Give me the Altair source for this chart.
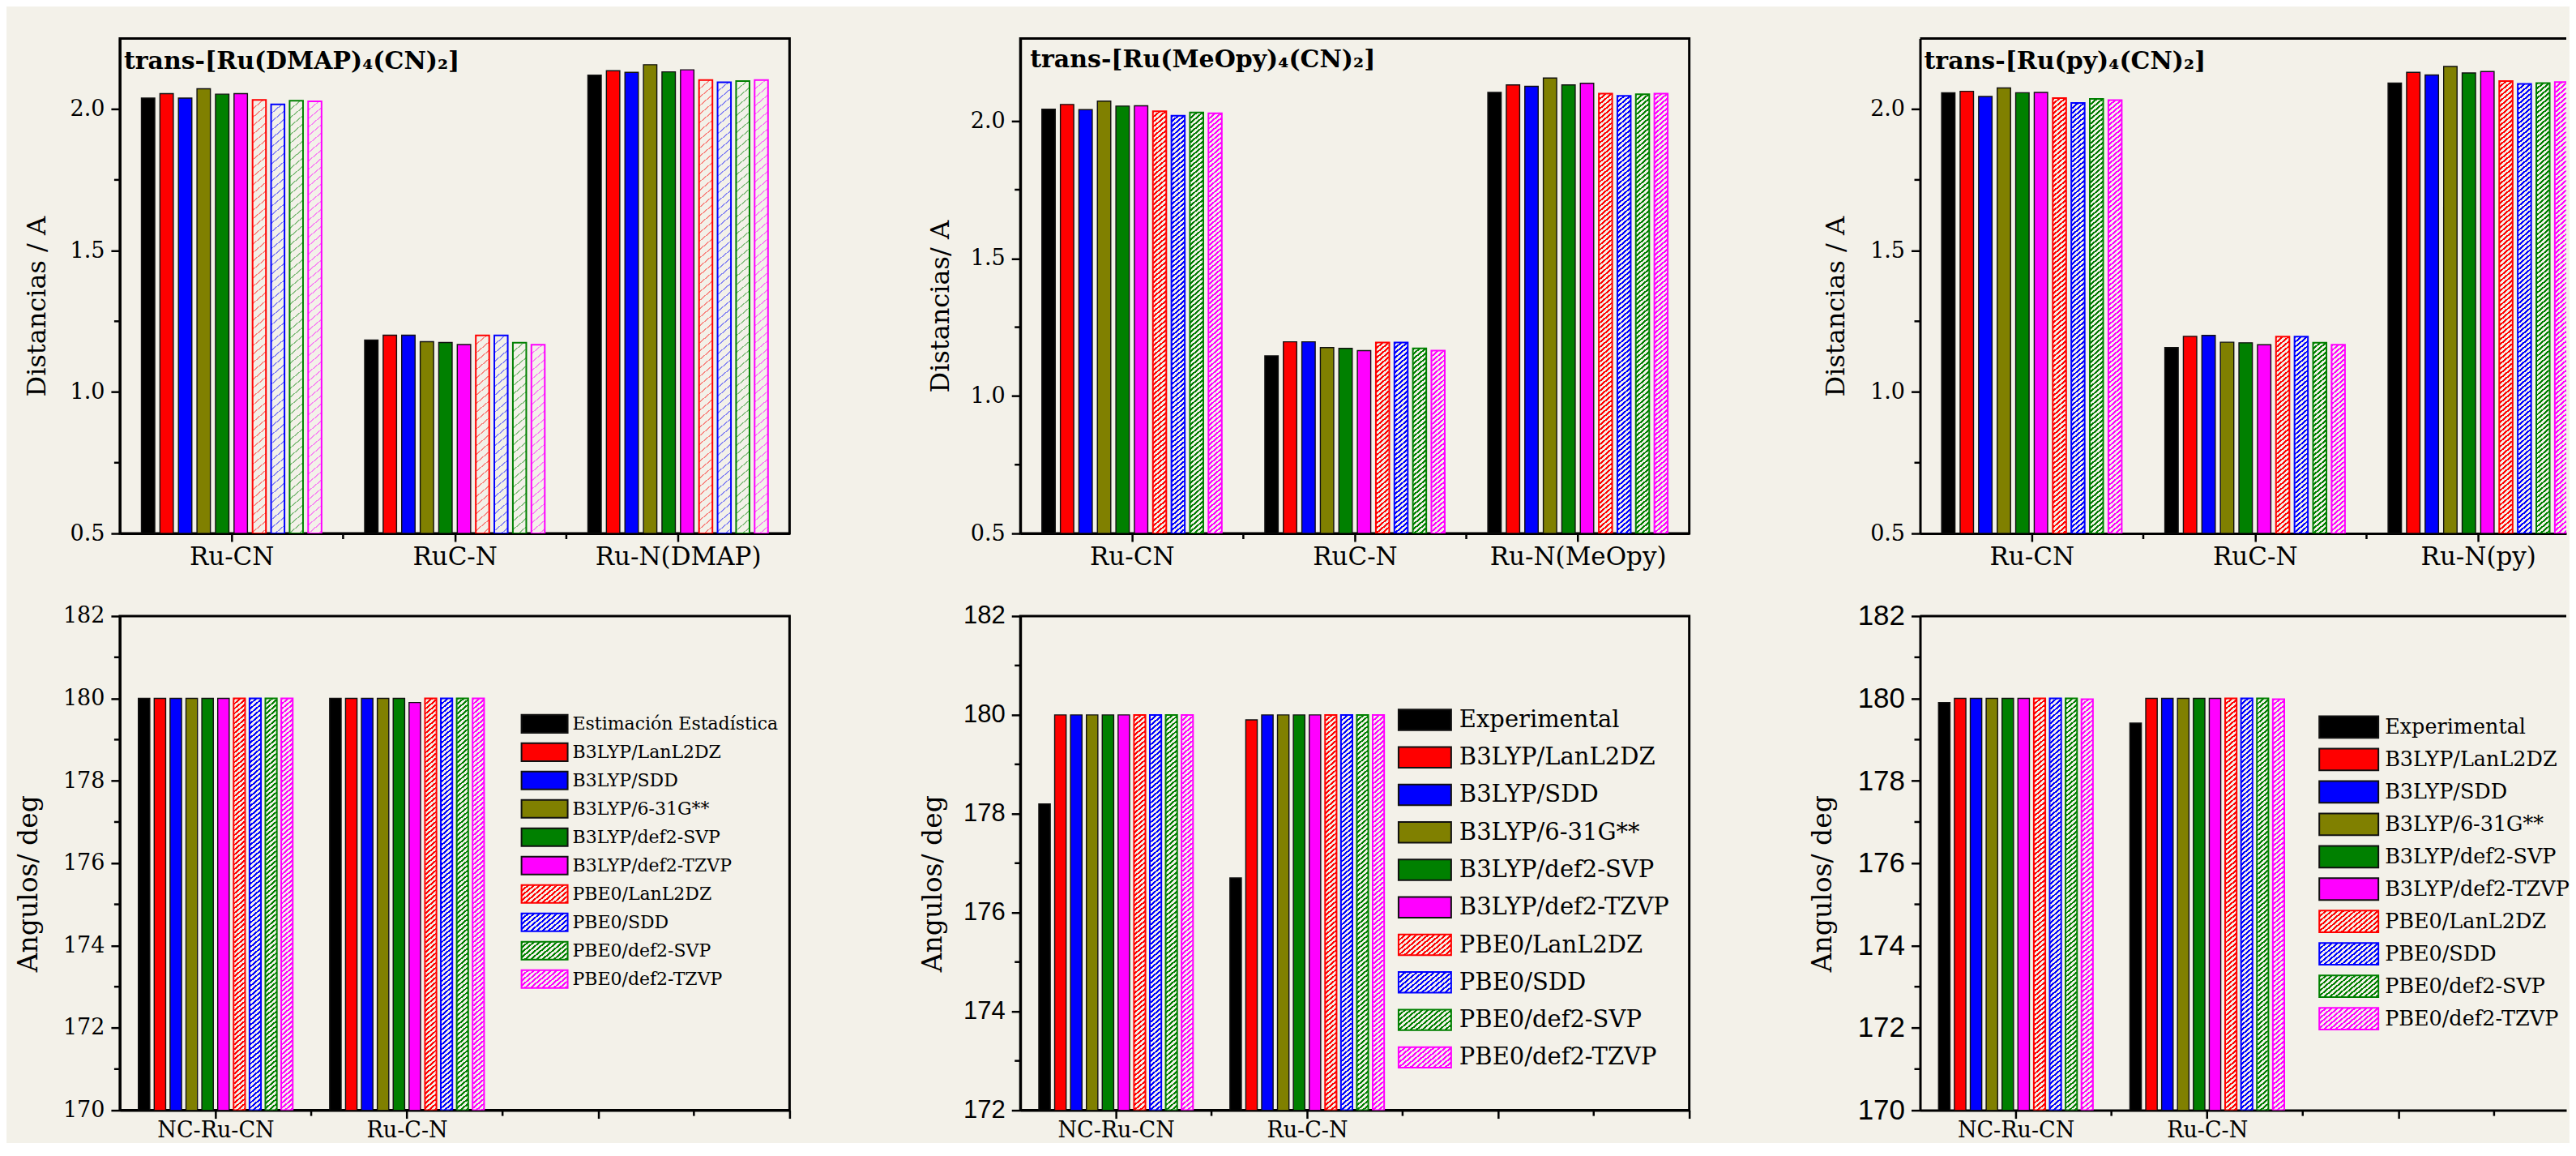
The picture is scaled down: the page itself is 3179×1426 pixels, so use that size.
import math
import altair as alt
import pandas as pd

BG = "#f3f1e9"

# ---------------- data ----------------
methods_exp = ["Experimental", "B3LYP/LanL2DZ", "B3LYP/SDD", "B3LYP/6-31G**", "B3LYP/def2-SVP",
               "B3LYP/def2-TZVP", "PBE0/LanL2DZ", "PBE0/SDD", "PBE0/def2-SVP", "PBE0/def2-TZVP"]
methods_est = ["Estimación Estadística", "B3LYP/LanL2DZ", "B3LYP/SDD", "B3LYP/6-31G**", "B3LYP/def2-SVP",
               "B3LYP/def2-TZVP", "PBE0/LanL2DZ", "PBE0/SDD", "PBE0/def2-SVP", "PBE0/def2-TZVP"]
bar_colors = ["#000000", "#ff0000", "#0000ff", "#808000", "#008000",
              "#ff00ff", "#ff0000", "#0000ff", "#008000", "#ff00ff"]

cats_dmap = ["Ru-CN", "RuC-N", "Ru-N(DMAP)"]
cats_meopy = ["Ru-CN", "RuC-N", "Ru-N(MeOpy)"]
cats_py = ["Ru-CN", "RuC-N", "Ru-N(py)"]
cats_ang = ["NC-Ru-CN", "Ru-C-N"]

dmap_ru_cn = [2.039, 2.055, 2.039, 2.072, 2.053, 2.055, 2.033, 2.017, 2.030, 2.028]
dmap_ruc_n = [1.184, 1.201, 1.201, 1.178, 1.175, 1.168, 1.200, 1.200, 1.174, 1.167]
dmap_ru_n = [2.120, 2.136, 2.130, 2.157, 2.132, 2.139, 2.103, 2.095, 2.099, 2.103]

meopy_ru_cn = [2.043, 2.060, 2.041, 2.072, 2.054, 2.055, 2.035, 2.019, 2.031, 2.028]
meopy_ruc_n = [1.146, 1.197, 1.197, 1.176, 1.173, 1.165, 1.194, 1.194, 1.173, 1.165]
meopy_ru_n = [2.104, 2.131, 2.126, 2.156, 2.131, 2.137, 2.099, 2.091, 2.097, 2.099]

py_ru_cn = [2.058, 2.063, 2.045, 2.075, 2.058, 2.059, 2.039, 2.022, 2.036, 2.032]
py_ruc_n = [1.157, 1.197, 1.200, 1.176, 1.174, 1.167, 1.196, 1.196, 1.174, 1.167]
py_ru_n = [2.092, 2.130, 2.121, 2.151, 2.128, 2.133, 2.099, 2.089, 2.092, 2.096]

dmap_nc_ru_cn = [180.0, 180.0, 180.0, 180.0, 180.0, 180.0, 180.0, 180.0, 180.0, 180.0]
dmap_ru_c_n = [180.0, 180.0, 180.0, 180.0, 180.0, 179.9, 180.0, 180.0, 180.0, 180.0]
meopy_nc_ru_cn = [178.2, 180.0, 180.0, 180.0, 180.0, 180.0, 180.0, 180.0, 180.0, 180.0]
meopy_ru_c_n = [176.7, 179.9, 180.0, 180.0, 180.0, 180.0, 180.0, 180.0, 180.0, 180.0]
py_nc_ru_cn = [179.9, 180.0, 180.0, 180.0, 180.0, 180.0, 180.0, 180.0, 180.0, 179.98]
py_ru_c_n = [179.4, 180.0, 180.0, 180.0, 180.0, 180.0, 180.0, 180.0, 180.0, 179.98]

SLOT = 0.083
BARW = 0.06


def blend(c, amt):
    r, g, b = int(c[1:3], 16), int(c[3:5], 16), int(c[5:7], 16)
    br, bg_, bb = int(BG[1:3], 16), int(BG[3:5], 16), int(BG[5:7], 16)
    r = round(r * amt + br * (1 - amt))
    g = round(g * amt + bg_ * (1 - amt))
    b = round(b * amt + bb * (1 - amt))
    return "#%02x%02x%02x" % (r, g, b)


def hatch(color, w, h, s, lw, slope=0.84):
    span = slope * w + h
    n = span / math.sqrt(1 + slope ** 2) / s
    a = span / (slope ** 2 * w ** 2 + h ** 2)
    stops = []
    k = 0
    while k / n < 1:
        t0 = k / n
        t1 = min((k + lw / s) / n, 1)
        t2 = min((k + 1) / n, 1)
        stops += [(t0, color), (t1, color), (t1, BG), (t2, BG)]
        k += 1
    return alt.LinearGradient(
        gradient="linear", x1=0, y1=0, x2=a * slope * w, y2=a * h,
        stops=[alt.GradientStop(offset=round(o, 5), color=c) for o, c in stops])


def axis_style(**kw):
    d = dict(domainColor="black", domainWidth=3, tickColor="black", tickWidth=2.5,
             labelColor="black", titleColor="black", grid=False, labelFlush=False,
             labelOverlap=False, labelLimit=600)
    d.update(kw)
    return alt.Axis(**d)


def build_panel(cats, values, names, ymin, ymax, xmax, W, H, yvals, yminor, xminor, yfmt,
                ytitle, title_x, yl_font, yl_size, xl_size, yt_size, xpad, pale,
                title=None, title_dx=5, title_y=36, legend=None, open_right=False):
    rows = []
    for ci, vals in enumerate(values):
        for si, v in enumerate(vals):
            rows.append({"cat": cats[ci], "ci": ci + 1, "si": si, "series": names[si], "value": v})
    df = pd.DataFrame(rows)
    pxx = W / (xmax - 0.5)
    pxy = H / (ymax - ymin)
    xs = alt.Scale(domain=[0.5, xmax], nice=False, zero=False)
    ys = alt.Scale(domain=[ymin, ymax], nice=False, zero=False)
    cs = alt.Scale(domain=names, range=bar_colors)
    label_expr = " : ".join(f"datum.value == {i + 1} ? '{c}'" for i, c in enumerate(cats)) + " : ''"
    xaxis = axis_style(values=list(range(1, int(math.floor(xmax)) + 1)), labelExpr=label_expr,
                       title=None, tickSize=10, labelPadding=xpad, labelFont="DejaVu Serif",
                       labelFontSize=xl_size)
    yaxis = axis_style(values=yvals, format=yfmt, title=ytitle, titleX=title_x, titleY=H / 2 + 25,
                       titleAngle=270, titleAlign="center", titleBaseline="middle",
                       titleFont="DejaVu Serif", titleFontSize=yt_size, titleFontWeight="normal",
                       labelFont=yl_font, labelFontSize=yl_size, tickSize=11, labelPadding=8)
    base = alt.Chart(df).transform_calculate(
        xa=f"datum.ci + (datum.si - 4.5) * {SLOT} - {BARW / 2}",
        xb=f"datum.ci + (datum.si - 4.5) * {SLOT} + {BARW / 2}",
        base=f"{ymin}")
    layers = [base.transform_filter("datum.si < 6").mark_rect(
        stroke="#111111", strokeWidth=1.4, clip=True).encode(
        x=alt.X("xa:Q", scale=xs, axis=xaxis), x2="xb:Q",
        y=alt.Y("value:Q", scale=ys, axis=yaxis), y2="base:Q",
        fill=alt.Fill("series:N", scale=cs, legend=None))]
    wpx = BARW * pxx
    for ci, vals in enumerate(values):
        for si in range(6, 10):
            hpx = (vals[si] - ymin) * pxy
            if pale:
                g = hatch(blend(bar_colors[si], 0.45), wpx, hpx, 8.0, 1.3)
            else:
                g = hatch(bar_colors[si], wpx, hpx, 4.6, 2.0)
            layers.append(
                base.transform_filter(f"datum.si == {si} && datum.ci == {ci + 1}")
                .mark_rect(fill=g, stroke=bar_colors[si], strokeWidth=2, clip=True)
                .encode(x=alt.X("xa:Q", scale=xs, axis=xaxis), x2="xb:Q",
                        y=alt.Y("value:Q", scale=ys, axis=yaxis), y2="base:Q"))
    layers.append(alt.Chart(pd.DataFrame({"v": yminor})).mark_rule(color="black", strokeWidth=2.5).encode(
        y=alt.Y("v:Q", scale=ys, axis=yaxis), x=alt.value(0), x2=alt.value(-7)))
    layers.append(alt.Chart(pd.DataFrame({"v": xminor})).mark_rule(color="black", strokeWidth=2.5).encode(
        x=alt.X("v:Q", scale=xs, axis=xaxis), y=alt.value(H), y2=alt.value(H + 7)))
    if open_right:
        layers.append(alt.Chart(pd.DataFrame({"v": [0]})).mark_rule(color="black", strokeWidth=3).encode(
            x=alt.value(0), x2=alt.value(W), y=alt.value(0)))
    if title is not None:
        layers.append(alt.Chart(pd.DataFrame({"t": [title]})).mark_text(
            align="left", baseline="alphabetic", font="DejaVu Serif", fontSize=30,
            fontWeight="bold", color="black").encode(
            x=alt.value(title_dx), y=alt.value(title_y), text="t:N"))
    chart = alt.layer(*layers)

    if legend is not None:
        y0, step, p, sx0, sx1, tx, fs = legend
        ldf = pd.DataFrame({"series": names, "si": list(range(len(names)))})
        ly = alt.Scale(domain=names, range=[y0, y0 + step * len(names)], paddingInner=p,
                       paddingOuter=p / 2)
        band = step * (1 - p)
        llayers = [alt.Chart(ldf).transform_filter("datum.si < 6").mark_rect(
            stroke="#111111", strokeWidth=2).encode(
            y=alt.Y("series:N", scale=ly, axis=None), x=alt.value(sx0), x2=alt.value(sx1),
            fill=alt.Fill("series:N", scale=cs, legend=None))]
        for si in range(6, 10):
            g = hatch(bar_colors[si], sx1 - sx0, band, 4.6, 2.0)
            llayers.append(alt.Chart(ldf).transform_filter(f"datum.si == {si}").mark_rect(
                fill=g, stroke=bar_colors[si], strokeWidth=2).encode(
                y=alt.Y("series:N", scale=ly, axis=None), x=alt.value(sx0), x2=alt.value(sx1)))
        llayers.append(alt.Chart(ldf).mark_text(
            align="left", baseline="middle", font="DejaVu Serif", fontSize=fs, color="black").encode(
            y=alt.Y("series:N", scale=ly, axis=None), x=alt.value(tx), text="series:N"))
        chart = alt.layer(chart, alt.layer(*llayers)).resolve_scale(y="independent")

    props = dict(width=W, height=H)
    if open_right:
        props["view"] = alt.ViewBackground(strokeOpacity=0)
    return chart.properties(**props)


top_yvals = [0.5, 1.0, 1.5, 2.0]
top_minor = [0.75, 1.25, 1.75]
ang_vals_170 = [170, 172, 174, 176, 178, 180, 182]
ang_minor_170 = [171, 173, 175, 177, 179, 181]
ang_vals_172 = [172, 174, 176, 178, 180, 182]
ang_minor_172 = [173, 175, 177, 179, 181]

W3 = 798
XMAX_TOP3 = 0.5 + W3 / (827 / 3.0)
XMAX_BOT3 = 0.5 + W3 / (827 / 3.5)

p1 = build_panel(cats_dmap, [dmap_ru_cn, dmap_ruc_n, dmap_ru_n], methods_est, 0.5, 2.25, 3.5, 827, 611,
                 top_yvals, top_minor, [1.5, 2.5], ".1f", "Distancias / A", -102,
                 "DejaVu Serif", 27, 31, 32, 4, True,
                 title="trans-[Ru(DMAP)₄(CN)₂]", title_dx=5, title_y=38)
p2 = build_panel(cats_meopy, [meopy_ru_cn, meopy_ruc_n, meopy_ru_n], methods_exp, 0.5, 2.3, 3.5, 826, 611,
                 top_yvals, top_minor, [1.5, 2.5], ".1f", "Distancias/ A", -99,
                 "DejaVu Serif", 27, 31, 32, 4, False,
                 title="trans-[Ru(MeOpy)₄(CN)₂]", title_dx=12, title_y=36)
p3 = build_panel(cats_py, [py_ru_cn, py_ruc_n, py_ru_n], methods_exp, 0.5, 2.25, XMAX_TOP3, W3, 611,
                 top_yvals, top_minor, [1.5, 2.5], ".1f", "Distancias / A", -104,
                 "DejaVu Serif", 27, 31, 32, 4, False,
                 title="trans-[Ru(py)₄(CN)₂]", title_dx=5, title_y=38, open_right=True)
p4 = build_panel(cats_ang, [dmap_nc_ru_cn, dmap_ru_c_n], methods_est, 170, 182, 4.0, 827, 610,
                 ang_vals_170, ang_minor_170, [1.5, 2.5, 3.5], "d", "Angulos/ deg", -112,
                 "DejaVu Serif", 27, 27, 33, 2, False,
                 legend=(115.5, 35, 0.37, 496, 553, 559, 22))
p5 = build_panel(cats_ang, [meopy_nc_ru_cn, meopy_ru_c_n], methods_exp, 172, 182, 4.0, 826, 610,
                 ang_vals_172, ang_minor_172, [1.5, 2.5, 3.5], "d", "Angulos/ deg", -108,
                 "Liberation Sans", 31, 27, 33, 2, False,
                 legend=(104.9, 46.3, 0.45, 467, 532, 542, 29))
p6 = build_panel(cats_ang, [py_nc_ru_cn, py_ru_c_n], methods_exp, 170, 182, XMAX_BOT3, W3, 610,
                 ang_vals_170, ang_minor_170, [1.5, 2.5, 3.5], "d", "Angulos/ deg", -120,
                 "Liberation Sans", 35, 27, 33, 2, False,
                 legend=(117, 40, 0.33, 493, 566, 574, 25.5), open_right=True)

chart = alt.concat(p1, p2, p3, p4, p5, p6, columns=3,
                   spacing=alt.RowColnumber(row=102, column=285), bounds="flush").properties(
    background=BG, padding={"left": 10, "top": 37, "right": 0, "bottom": 0}
).configure_view(stroke="black", strokeWidth=3)

chart.save("out.html", embed_options={"renderer": "svg", "actions": False})
